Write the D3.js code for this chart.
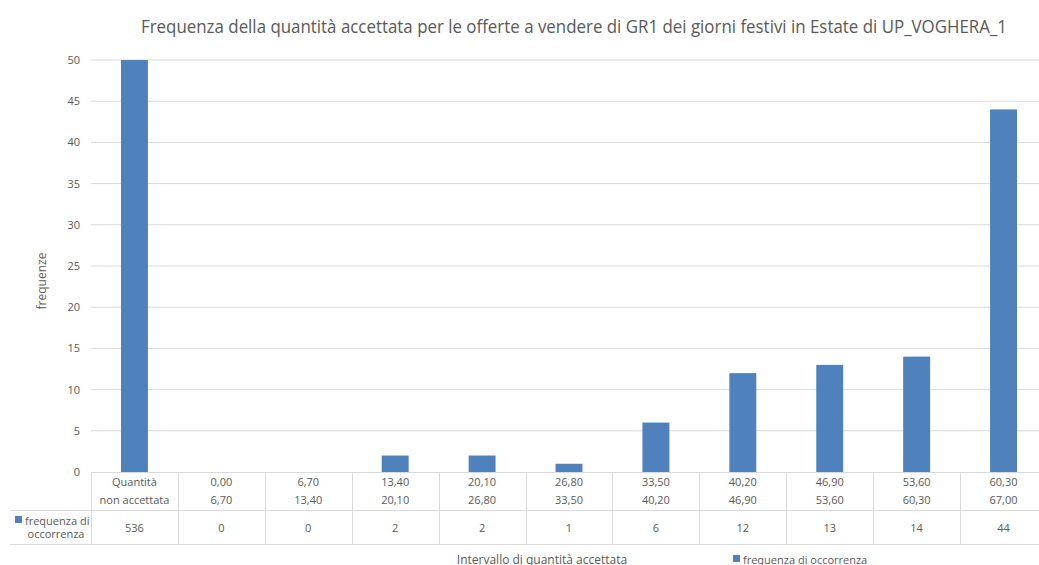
<!DOCTYPE html>
<html>
<head>
<meta charset="utf-8">
<script src="https://cdn.jsdelivr.net/npm/d3@7"></script>
<style>
body { margin: 0; background: #fff; }
text { font-family: "Open Sans", "DejaVu Sans", sans-serif; fill: #595959; }
</style>
</head>
<body>
<svg id="chart" width="1039" height="565"></svg>
<script>
// chart data
let lowBounds = ["Quantità", "0,00", "6,70", "13,40", "20,10", "26,80", "33,50", "40,20", "46,90", "53,60", "60,30"];
let highBounds = ["non accettata", "6,70", "13,40", "20,10", "26,80", "33,50", "40,20", "46,90", "53,60", "60,30", "67,00"];
let frequencies = [536, 0, 0, 2, 2, 1, 6, 12, 13, 14, 44];
let yTicks = [0, 5, 10, 15, 20, 25, 30, 35, 40, 45, 50];

let svg = d3.select("#chart");
let barColor = "#4f81bd";
let gridColor = "#d9d9d9";

let plotLeft = 91, plotRight = 1047; // last column runs off the picture
let plotTop = 60, plotBottom = 472;

let cats = d3.range(lowBounds.length);
let xScale = d3.scaleBand().domain(cats).range([plotLeft, plotRight]);
let yScale = d3.scaleLinear().domain([0, 50]).range([plotBottom, plotTop]).clamp(true);

// title
svg.append("text")
    .attr("x", 574).attr("y", 33)
    .attr("text-anchor", "middle")
    .attr("font-size", 17.5)
    .attr("textLength", 866).attr("lengthAdjust", "spacingAndGlyphs")
    .text("Frequenza della quantità accettata per le offerte a vendere di GR1 dei giorni festivi in Estate di UP_VOGHERA_1");

// gridlines + y axis labels
let yAxis = d3.axisLeft(yScale).tickValues(yTicks).tickSize(0).tickPadding(11);
let gy = svg.append("g").attr("transform", "translate(" + plotLeft + ",0)").call(yAxis);
gy.select(".domain").remove();
gy.selectAll("text").attr("font-size", 11).style("font-family", null).attr("fill", null);

svg.append("g").selectAll("line")
    .data(yTicks.filter(d => d > 0))
    .enter().append("line")
    .attr("x1", plotLeft).attr("x2", plotRight)
    .attr("y1", d => yScale(d)).attr("y2", d => yScale(d))
    .attr("stroke", gridColor).attr("stroke-width", 1);

// y title
svg.append("text")
    .attr("transform", "translate(46,281) rotate(-90)")
    .attr("text-anchor", "middle")
    .attr("font-size", 12)
    .text("frequenze");

// bars
let barW = xScale.bandwidth() * 0.31;
svg.append("g").selectAll("rect")
    .data(frequencies)
    .enter().append("rect")
    .attr("x", (d, i) => xScale(i) + xScale.bandwidth() / 2 - barW / 2)
    .attr("width", barW)
    .attr("y", d => yScale(d))
    .attr("height", d => plotBottom - yScale(d))
    .attr("fill", barColor);

// data table
let rowMid = 510, rowBottom = 544;
let table = svg.append("g").attr("stroke", gridColor).attr("stroke-width", 1);
table.append("line").attr("x1", plotLeft).attr("x2", plotRight).attr("y1", plotBottom + 0.5).attr("y2", plotBottom + 0.5);
table.append("line").attr("x1", 10).attr("x2", plotRight).attr("y1", rowMid + 0.5).attr("y2", rowMid + 0.5);
table.append("line").attr("x1", 10).attr("x2", plotRight).attr("y1", rowBottom + 0.5).attr("y2", rowBottom + 0.5);
table.selectAll(".vline")
    .data(cats.concat([cats.length]))
    .enter().append("line")
    .attr("class", "vline")
    .attr("x1", i => Math.round(plotLeft + i * xScale.step()) + 0.5)
    .attr("x2", i => Math.round(plotLeft + i * xScale.step()) + 0.5)
    .attr("y1", plotBottom).attr("y2", rowBottom);

let cellText = svg.append("g").attr("font-size", 11).attr("text-anchor", "middle");
cellText.selectAll(".low").data(lowBounds).enter().append("text")
    .attr("x", (d, i) => xScale(i) + xScale.bandwidth() / 2).attr("y", 486).text(d => d);
cellText.selectAll(".high").data(highBounds).enter().append("text")
    .attr("x", (d, i) => xScale(i) + xScale.bandwidth() / 2).attr("y", 504).text(d => d);
cellText.selectAll(".val").data(frequencies).enter().append("text")
    .attr("x", (d, i) => xScale(i) + xScale.bandwidth() / 2).attr("y", 532).text(d => d);

// row key
svg.append("rect").attr("x", 15).attr("y", 516).attr("width", 7).attr("height", 7).attr("fill", barColor);
svg.append("text").attr("x", 25).attr("y", 525).attr("font-size", 11).text("frequenza di");
svg.append("text").attr("x", 56).attr("y", 538).attr("font-size", 11).attr("text-anchor", "middle").text("occorrenza");

// x title + legend
svg.append("text").attr("x", 542).attr("y", 564).attr("font-size", 12).attr("text-anchor", "middle")
    .text("Intervallo di quantità accettata");
svg.append("rect").attr("x", 733).attr("y", 555).attr("width", 7).attr("height", 7).attr("fill", barColor);
svg.append("text").attr("x", 743).attr("y", 564).attr("font-size", 11).text("frequenza di occorrenza");
</script>
</body>
</html>
